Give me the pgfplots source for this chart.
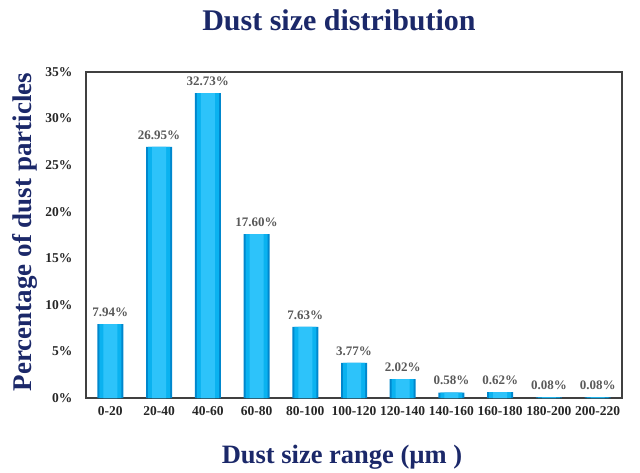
\documentclass[border=0pt]{standalone}
\usepackage{pgfplots}
\pgfplotsset{compat=1.18}
\usepackage{fontspec}
\setmainfont{Liberation Serif}
\definecolor{navy}{RGB}{27,40,105}
\definecolor{lbl}{RGB}{89,89,89}
\definecolor{barouter}{RGB}{0,135,205}
\definecolor{barmain}{RGB}{10,178,240}
\definecolor{barlight}{RGB}{45,195,250}
\begin{document}
\begin{tikzpicture}
\path (-86pt,-72pt) rectangle (554pt,398pt);
\begin{axis}[
  at={(0,0)}, anchor=south west,
  scale only axis, width=536pt, height=326pt,
  xmin=-0.5, xmax=10.5, ymin=0, ymax=35,
  ytick={0,5,...,35},
  yticklabel={\pgfmathprintnumber{\tick}\%},
  xtick={0,...,10},
  xticklabels={0-20,20-40,40-60,60-80,80-100,100-120,120-140,140-160,160-180,180-200,200-220},
  /pgf/number format/assume math mode=true,
  ticklabel style={font=\fontsize{13.5}{15}\selectfont\bfseries, text=black!85},
  yticklabel style={xshift=-10pt},
  xticklabel style={yshift=-5pt},
  major tick length=0pt,
  axis line style={draw=black!75, line width=1.2pt},
  title={Dust size distribution},
  title style={font=\fontsize{30}{33}\selectfont\bfseries, text=navy, at={(0.5,1)}, anchor=center, yshift=46pt, xshift=-15pt},
  xlabel={Dust size range (µm )},
  xlabel style={font=\fontsize{26.5}{30}\selectfont\bfseries, text=navy, at={(0.5,0)}, anchor=center, yshift=-59pt, xshift=-12pt},
  ylabel={Percentage of dust particles},
  ylabel style={font=\fontsize{27}{30}\selectfont\bfseries, text=navy, at={(0,0.5)}, anchor=center, yshift=61pt, xshift=3pt},
  ybar,
  clip=false,
]
\addplot[bar shift=0pt, bar width=26pt, draw=none, fill=barouter,
  nodes near coords={\pgfmathprintnumber[fixed,precision=2,fixed zerofill]{\pgfplotspointmeta}\%},
  nodes near coords style={font=\fontsize{13}{14}\selectfont\bfseries, text=lbl, /pgf/number format/assume math mode=true, yshift=4pt}]
coordinates {(0,7.94) (1,26.95) (2,32.73) (3,17.60) (4,7.63) (5,3.77) (6,2.02) (7,0.58) (8,0.62) (9,0.08) (10,0.08)};
\addplot[bar shift=0pt, bar width=22pt, draw=none, fill=barmain]
coordinates {(0,7.94) (1,26.95) (2,32.73) (3,17.60) (4,7.63) (5,3.77) (6,2.02) (7,0.58) (8,0.62) (9,0.08) (10,0.08)};
\addplot[bar shift=0pt, bar width=14pt, draw=none, fill=barlight]
coordinates {(0,7.94) (1,26.95) (2,32.73) (3,17.60) (4,7.63) (5,3.77) (6,2.02) (7,0.58) (8,0.62) (9,0.08) (10,0.08)};
\end{axis}
\end{tikzpicture}
\end{document}
